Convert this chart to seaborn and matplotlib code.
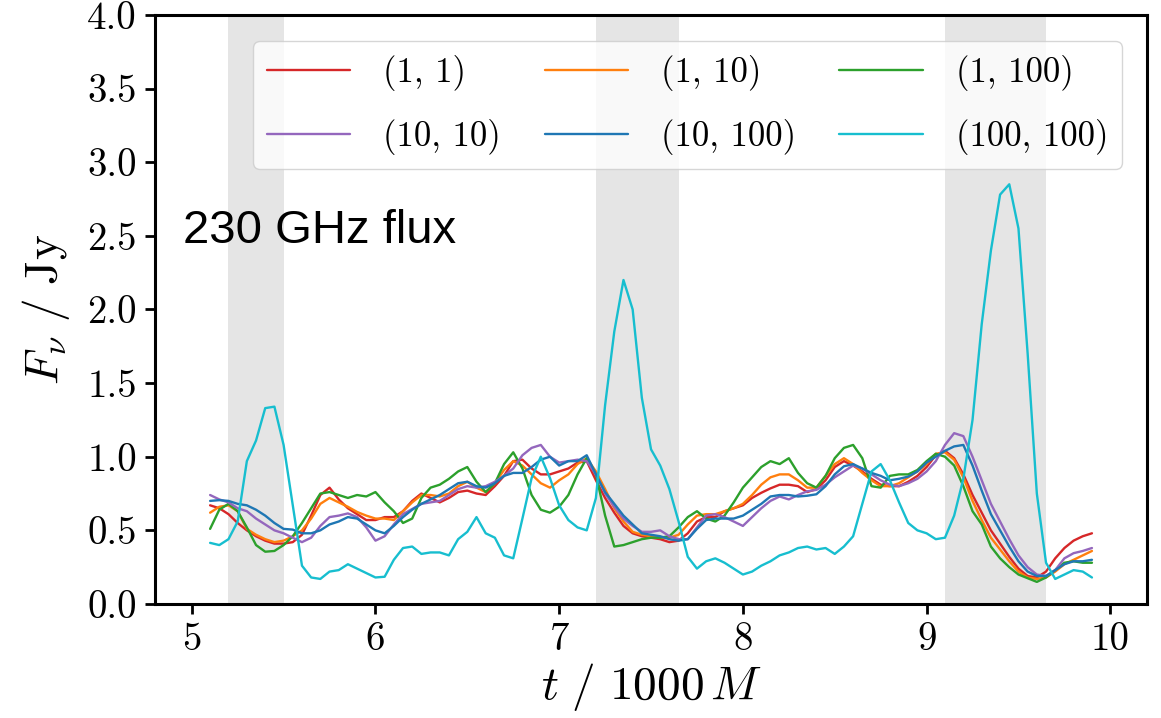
import numpy as np
import pandas as pd
import matplotlib
matplotlib.use("Agg")
import matplotlib.pyplot as plt
import seaborn as sns

# ---- data -------------------------------------------------------------
t = [5.10, 5.15, 5.20, 5.25, 5.30, 5.35, 5.40, 5.45, 5.50, 5.55, 5.60, 5.65,
     5.70, 5.75, 5.80, 5.85, 5.90, 5.95, 6.00, 6.05, 6.10, 6.15, 6.20, 6.25,
     6.30, 6.35, 6.40, 6.45, 6.50, 6.55, 6.60, 6.65, 6.70, 6.75, 6.80, 6.85,
     6.90, 6.95, 7.00, 7.05, 7.10, 7.15, 7.20, 7.25, 7.30, 7.35, 7.40, 7.45,
     7.50, 7.55, 7.60, 7.65, 7.70, 7.75, 7.80, 7.85, 7.90, 7.95, 8.00, 8.05,
     8.10, 8.15, 8.20, 8.25, 8.30, 8.35, 8.40, 8.45, 8.50, 8.55, 8.60, 8.65,
     8.70, 8.75, 8.80, 8.85, 8.90, 8.95, 9.00, 9.05, 9.10, 9.15, 9.20, 9.25,
     9.30, 9.35, 9.40, 9.45, 9.50, 9.55, 9.60, 9.65, 9.70, 9.75, 9.80, 9.85,
     9.90]

flux_1_1 = [0.67, 0.65, 0.61, 0.55, 0.50, 0.46, 0.43, 0.41, 0.41, 0.42, 0.47, 0.60,
            0.74, 0.79, 0.71, 0.65, 0.61, 0.57, 0.57, 0.59, 0.59, 0.63, 0.70, 0.75,
            0.72, 0.69, 0.72, 0.76, 0.77, 0.75, 0.74, 0.80, 0.87, 0.97, 0.98, 0.92,
            0.88, 0.88, 0.90, 0.92, 0.96, 0.97, 0.84, 0.72, 0.62, 0.53, 0.48, 0.46,
            0.45, 0.44, 0.42, 0.43, 0.48, 0.56, 0.59, 0.59, 0.63, 0.65, 0.67, 0.72,
            0.755, 0.785, 0.81, 0.81, 0.80, 0.76, 0.78, 0.84, 0.93, 0.97, 0.94, 0.90,
            0.85, 0.81, 0.80, 0.80, 0.83, 0.87, 0.93, 1.01, 1.04, 0.99, 0.88, 0.74,
            0.62, 0.50, 0.41, 0.32, 0.24, 0.19, 0.18, 0.22, 0.31, 0.38, 0.43, 0.46,
            0.48]

flux_1_10 = [0.62, 0.66, 0.67, 0.63, 0.51, 0.47, 0.44, 0.42, 0.43, 0.46, 0.50, 0.58,
             0.68, 0.72, 0.69, 0.66, 0.625, 0.60, 0.58, 0.58, 0.57, 0.63, 0.69, 0.74,
             0.74, 0.73, 0.75, 0.80, 0.83, 0.79, 0.76, 0.82, 0.91, 0.97, 0.94, 0.88,
             0.82, 0.79, 0.84, 0.88, 0.95, 0.99, 0.90, 0.78, 0.65, 0.56, 0.49, 0.47,
             0.46, 0.45, 0.45, 0.47, 0.54, 0.60, 0.61, 0.61, 0.63, 0.65, 0.68, 0.74,
             0.81, 0.86, 0.88, 0.88, 0.84, 0.79, 0.79, 0.87, 0.95, 0.99, 0.95, 0.89,
             0.84, 0.80, 0.80, 0.82, 0.86, 0.90, 0.95, 1.02, 1.03, 0.98, 0.86, 0.70,
             0.57, 0.45, 0.37, 0.29, 0.22, 0.18, 0.17, 0.18, 0.22, 0.27, 0.30, 0.33,
             0.36]

flux_1_100 = [0.51, 0.64, 0.68, 0.63, 0.52, 0.40, 0.355, 0.36, 0.40, 0.46, 0.55, 0.65,
              0.75, 0.76, 0.74, 0.72, 0.74, 0.73, 0.76, 0.69, 0.63, 0.55, 0.58, 0.72,
              0.79, 0.81, 0.85, 0.90, 0.93, 0.83, 0.76, 0.82, 0.95, 1.03, 0.92, 0.74,
              0.64, 0.62, 0.66, 0.74, 0.88, 0.99, 0.88, 0.60, 0.39, 0.40, 0.42, 0.44,
              0.45, 0.45, 0.46, 0.52, 0.59, 0.63, 0.58, 0.56, 0.60, 0.69, 0.79, 0.86,
              0.93, 0.97, 0.95, 0.99, 0.89, 0.82, 0.79, 0.87, 0.99, 1.06, 1.08, 0.99,
              0.80, 0.79, 0.87, 0.88, 0.88, 0.91, 0.97, 1.02, 1.00, 0.94, 0.80, 0.63,
              0.54, 0.39, 0.31, 0.25, 0.20, 0.175, 0.15, 0.18, 0.23, 0.28, 0.29, 0.28,
              0.28]

flux_10_10 = [0.74, 0.71, 0.69, 0.65, 0.63, 0.58, 0.54, 0.50, 0.48, 0.45, 0.42, 0.45,
              0.53, 0.59, 0.60, 0.615, 0.59, 0.52, 0.43, 0.46, 0.54, 0.61, 0.645, 0.68,
              0.69, 0.70, 0.74, 0.78, 0.80, 0.79, 0.80, 0.83, 0.87, 0.92, 1.01, 1.06,
              1.08, 1.00, 0.96, 0.97, 0.98, 0.97, 0.88, 0.75, 0.66, 0.58, 0.53, 0.49,
              0.49, 0.50, 0.46, 0.44, 0.44, 0.52, 0.60, 0.61, 0.59, 0.56, 0.53, 0.59,
              0.65, 0.70, 0.73, 0.71, 0.74, 0.765, 0.775, 0.81, 0.86, 0.90, 0.94, 0.92,
              0.88, 0.84, 0.81, 0.80, 0.82, 0.85, 0.90, 0.97, 1.08, 1.16, 1.14, 1.00,
              0.84, 0.68, 0.56, 0.44, 0.33, 0.25, 0.20, 0.19, 0.23, 0.31, 0.345, 0.36,
              0.38]

flux_10_100 = [0.70, 0.705, 0.70, 0.68, 0.67, 0.64, 0.60, 0.55, 0.51, 0.505, 0.48, 0.48,
               0.50, 0.54, 0.56, 0.59, 0.58, 0.54, 0.50, 0.48, 0.53, 0.59, 0.64, 0.68,
               0.71, 0.74, 0.78, 0.82, 0.83, 0.80, 0.79, 0.82, 0.87, 0.89, 0.89, 0.93,
               0.98, 1.00, 0.94, 0.97, 0.97, 1.01, 0.88, 0.76, 0.68, 0.60, 0.54, 0.48,
               0.47, 0.46, 0.44, 0.43, 0.44, 0.51, 0.57, 0.58, 0.58, 0.58, 0.60, 0.64,
               0.68, 0.73, 0.74, 0.74, 0.73, 0.735, 0.745, 0.80, 0.88, 0.935, 0.95, 0.92,
               0.89, 0.87, 0.84, 0.85, 0.865, 0.90, 0.96, 1.00, 1.04, 1.07, 1.08, 0.94,
               0.77, 0.61, 0.50, 0.39, 0.29, 0.22, 0.19, 0.19, 0.23, 0.27, 0.29, 0.29,
               0.30]

flux_100_100 = [0.415, 0.40, 0.44, 0.56, 0.97, 1.11, 1.33, 1.34, 1.08, 0.67, 0.26, 0.18,
                0.17, 0.22, 0.23, 0.27, 0.24, 0.21, 0.18, 0.185, 0.30, 0.38, 0.39, 0.34,
                0.35, 0.35, 0.33, 0.44, 0.49, 0.59, 0.48, 0.45, 0.33, 0.31, 0.58, 0.855,
                1.00, 0.855, 0.67, 0.57, 0.52, 0.50, 0.72, 1.35, 1.85, 2.20, 2.00, 1.40,
                1.05, 0.94, 0.78, 0.56, 0.32, 0.24, 0.29, 0.31, 0.28, 0.24, 0.20, 0.22,
                0.26, 0.29, 0.33, 0.35, 0.38, 0.39, 0.37, 0.38, 0.34, 0.39, 0.46, 0.68,
                0.90, 0.95, 0.84, 0.69, 0.55, 0.50, 0.48, 0.44, 0.45, 0.60, 0.85, 1.25,
                1.90, 2.40, 2.78, 2.85, 2.55, 1.70, 0.75, 0.28, 0.17, 0.20, 0.23, 0.22,
                0.18]

labels = ["(1, 1)", "(1, 10)", "(1, 100)", "(10, 10)", "(10, 100)", "(100, 100)"]
colors = ["#d62728", "#ff7f0e", "#2ca02c", "#9467bd", "#1f77b4", "#17becf"]
series = [flux_1_1, flux_1_10, flux_1_100, flux_10_10, flux_10_100, flux_100_100]

# shaded flare windows (t / 1000 M)
span_start = [5.20, 7.20, 9.10]
span_end = [5.50, 7.65, 9.65]

# ---- styling ----------------------------------------------------------
sns.set_style("ticks")
plt.rcParams["font.family"] = ["DejaVu Serif"]
plt.rcParams["mathtext.fontset"] = "cm"
plt.rcParams["text.color"] = "black"
plt.rcParams["axes.labelcolor"] = "black"
plt.rcParams["axes.edgecolor"] = "black"
plt.rcParams["xtick.color"] = "black"
plt.rcParams["ytick.color"] = "black"

df = pd.concat(
    [pd.DataFrame({"t": t, "F": s, "model": lab}) for s, lab in zip(series, labels)],
    ignore_index=True,
)

fig = plt.figure(figsize=(11.61, 7.18), dpi=100)
ax = fig.add_axes([0.1335, 0.1588, 0.8545, 0.8204])

for a, b in zip(span_start, span_end):
    ax.axvspan(a, b, color="gray", alpha=0.2, lw=0, zorder=0)

sns.lineplot(data=df, x="t", y="F", hue="model", hue_order=labels,
             palette=dict(zip(labels, colors)), estimator=None, sort=False,
             lw=1.7, ax=ax, legend=False)
for ln in ax.get_lines():
    ln.set_solid_joinstyle("round")

ax.set_xlim(4.80, 10.20)
ax.set_ylim(0, 4.0)
ax.set_xticks([5, 6, 7, 8, 9, 10])
ax.set_yticks(np.arange(0, 4.01, 0.5))
ax.xaxis.set_major_formatter(matplotlib.ticker.FuncFormatter(lambda v, p: "%d" % round(v)))
ax.yaxis.set_major_formatter(matplotlib.ticker.FuncFormatter(lambda v, p: "%.1f" % v))
ax.tick_params(axis="both", labelsize=28, length=7, width=2, direction="out",
               pad=6)
for lab in ax.get_xticklabels() + ax.get_yticklabels():
    lab.set_fontfamily("cmr10")
for sp in ax.spines.values():
    sp.set_linewidth(2.2)
    sp.set_visible(True)

ax.set_xlabel(r"$t\ /\ 1000\,M$", fontsize=34, labelpad=2)
ax.set_ylabel(r"$F_\nu\ /\ \mathrm{Jy}$", fontsize=34, labelpad=11)

ax.text(0.028, 0.613, "230 GHz flux", transform=ax.transAxes,
        fontsize=34, family=["Liberation Sans", "DejaVu Sans"], color="black",
        ha="left", va="baseline")

# legend: 3 columns, row-wise order
handles = ax.get_lines()[:6]
order = [0, 3, 1, 4, 2, 5]
leg = ax.legend([handles[i] for i in order], [labels[i] for i in order],
                ncol=3, prop={"family": "cmr10", "size": 25}, loc="upper left",
                bbox_to_anchor=(0.099, 0.955), borderaxespad=0,
                handlelength=2.4, handletextpad=0.95, columnspacing=1.25,
                labelspacing=0.8, frameon=True, fancybox=True,
                framealpha=0.8, edgecolor="#cccccc")

fig.savefig("out.png", dpi=100)
